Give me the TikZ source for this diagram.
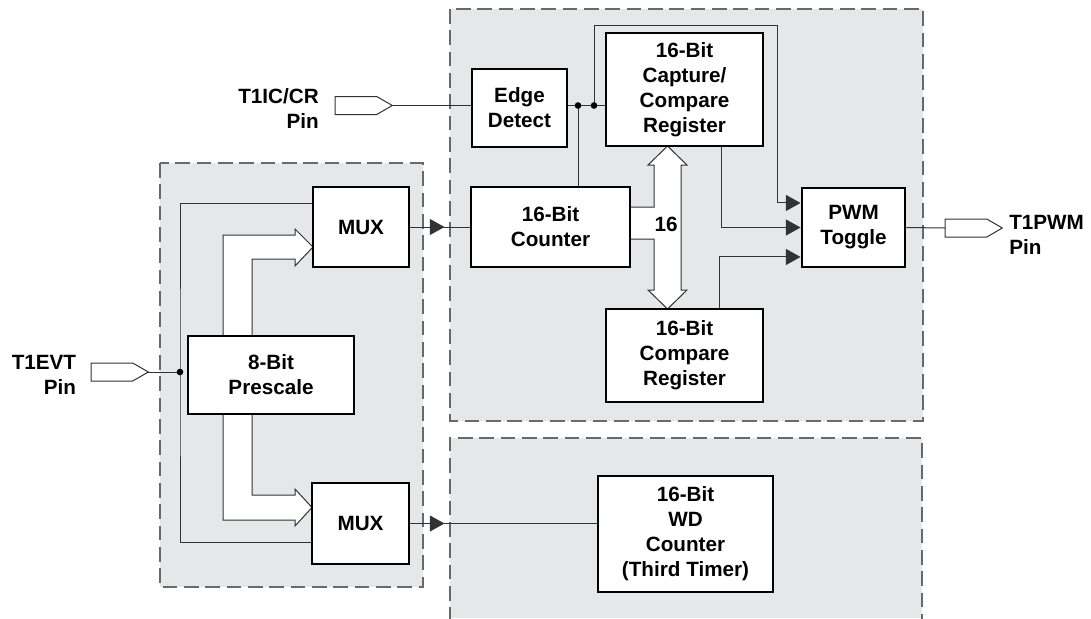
\documentclass[tikz,border=0pt]{standalone}
\usepackage{fontspec}
\setmainfont{Liberation Sans}
\usetikzlibrary{shapes.symbols,arrows.meta,calc,decorations.markings}
\definecolor{panelgray}{RGB}{230,231,233}
\definecolor{dashgray}{RGB}{105,105,105}
\definecolor{wiregray}{RGB}{50,50,50}

\tikzset{
  panel/.style={draw=dashgray, fill=panelgray, line width=1pt, dash pattern=on 11pt off 5pt},
  blk/.style={draw, line width=2.2pt, fill=white, inner sep=0pt, align=center,
    font=\fontsize{15.5}{18.8}\selectfont\bfseries},
  lbl/.style={inner sep=0pt, font=\fontsize{15.5}{18.8}\selectfont\bfseries},
  pin/.style={draw=wiregray, fill=white, line width=0.75pt, signal, signal to=east,
    signal pointer angle=60, minimum width=43pt, minimum height=13.5pt, inner sep=0pt,
    outer sep=0pt},
  wire/.style={draw=wiregray, line width=0.75pt},
  fwd/.style={wire, -{Triangle[length=11pt,width=12pt]}},
  midfwd/.style={wire, postaction={decorate}, decoration={markings,
    mark=at position 25.5pt with {\arrow{Triangle[length=11pt,width=12pt]}}}},
  bus/.style={wire, fill=white},
  dot/.style={circle, fill=black, inner sep=0pt, minimum size=5pt}
}

\begin{document}
\begin{tikzpicture}[x=0.75pt, y=-0.75pt]
  \useasboundingbox (0,0) rectangle (1091,618);

  % Panels
  \draw[panel] (160,163) rectangle (423,587);
  \draw[panel] (450,9) rectangle (923,421);
  \fill[panelgray] (450,438) rectangle (922,618);
  \draw[panel, fill=none] (450,622) -- (450,438) -- (922,438) -- (922,622);

  % Buses
  \draw[bus] (223,336) -- (223,235) -- (295,235) -- (295,229) -- (313,247)
    -- (295,266) -- (295,259) -- (252,259) -- (252,336);
  \draw[bus] (252,414) -- (252,495) -- (295,495) -- (295,489) -- (312,507.5)
    -- (295,526) -- (295,520) -- (223,520) -- (223,414);
  \draw[bus] (630,207) -- (654,207) -- (654,165) -- (648,165) -- (667.5,146)
    -- (687,165) -- (681,165) -- (681,290) -- (687,290) -- (667.5,309)
    -- (648,290) -- (654,290) -- (654,239) -- (630,239);
  \node[lbl] (buswidth) at (666,224) {16};

  % Blocks
  \node[blk, minimum width=72pt, minimum height=60pt] (mux1) at (361,227) {MUX};
  \node[blk, minimum width=72.75pt, minimum height=60.75pt] (mux2) at (360.5,523.5) {MUX};
  \node[blk, minimum width=124.5pt, minimum height=58.5pt] (pre) at (271,375) {8-Bit\\Prescale};
  \node[blk, minimum width=71.25pt, minimum height=58.5pt] (edge) at (519.5,108) {Edge\\Detect};
  \node[blk, minimum width=117.75pt, minimum height=84.75pt] (cap) at (684.5,89.5)
    {16-Bit\\Capture/\\Compare\\Register};
  \node[blk, minimum width=119.25pt, minimum height=60pt] (cnt) at (550.5,227) {16-Bit\\Counter};
  \node[blk, minimum width=117.75pt, minimum height=69.75pt] (cmp) at (684.5,355.5)
    {16-Bit\\Compare\\Register};
  \node[blk, minimum width=77.25pt, minimum height=59.25pt] (pwm) at (853.5,227.5) {PWM\\Toggle};
  \node[blk, minimum width=131.25pt, minimum height=87pt] (wd) at (685.5,534)
    {16-Bit\\WD\\Counter\\(Third Timer)};

  % Pins
  \node[pin, anchor=west] (pinevt) at (91,372) {};
  \node[pin, anchor=west] (pinic) at (335,105.5) {};
  \node[pin, anchor=west] (pinpwm) at (945,228) {};
  \node[lbl, anchor=east, align=right] (lblevt) at ([xshift=-11pt,yshift=-2pt]pinevt.west) {T1EVT\\Pin};
  \node[lbl, anchor=east, align=right] (lblic) at ([xshift=-12pt,yshift=-2pt]pinic.west) {T1IC/CR\\Pin};
  \node[lbl, anchor=west, align=left] (lblpwm) at ([xshift=5pt,yshift=-5pt]pinpwm.east) {T1PWM\\Pin};

  % Wires
  \coordinate (jct) at (180,372);
  \coordinate (d1) at (578,105.5);
  \coordinate (d2) at (594,105.5);
  \draw[wire] (pinevt.east) -- (jct);
  \draw[wire] ([yshift=18pt]mux1.west) -| (jct) |- ([yshift=-14.6pt]mux2.west);
  \draw[midfwd] (mux1.east) -- (cnt.west);
  \draw[midfwd] (mux2.east) -- (mux2.east -| wd.west);
  \draw[wire] (pinic.east) -- (pinic.east -| edge.west);
  \draw[wire] (pinic.east -| edge.east) -- (pinic.east -| cap.west);
  \draw[wire] (d1) -- (d1 |- cnt.north);
  \draw[fwd] (d2) |- (777,25) |- ([yshift=18.4pt]pwm.west);
  \draw[fwd] ([xshift=27.4pt]cap.south) |- (pwm.west);
  \draw[fwd] ([xshift=26.6pt]cmp.north) |- ([yshift=-22.1pt]pwm.west);
  \draw[wire] (pwm.east) -- (pinpwm.west);
  \node[dot] (jdot) at (jct) {};
  \node[dot] (dot1) at (d1) {};
  \node[dot] (dot2) at (d2) {};
\end{tikzpicture}
\end{document}
